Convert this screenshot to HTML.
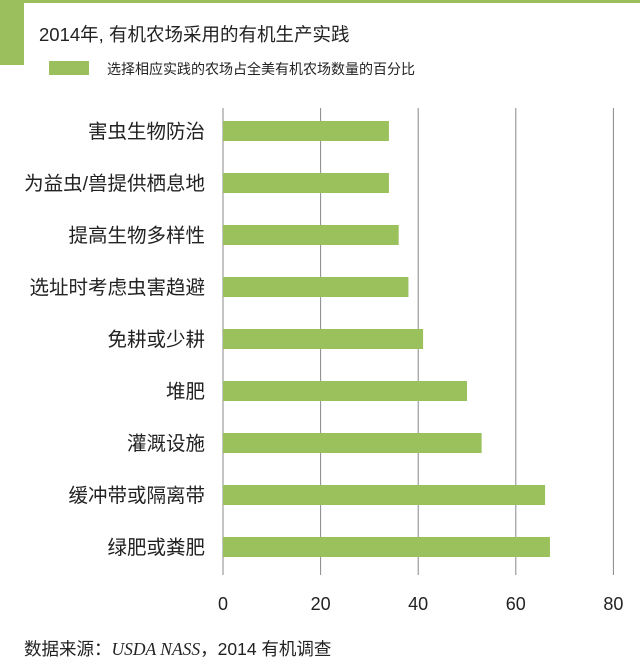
<!DOCTYPE html>
<html><head><meta charset="utf-8"><style>
body{margin:0;background:#fff;font-family:"Liberation Sans","Noto Sans CJK SC",sans-serif}
svg text{font-family:"Liberation Sans","Noto Sans CJK SC",sans-serif}
</style></head><body>
<svg width="640" height="666" viewBox="0 0 640 666">
<rect x="0" y="0" width="640" height="3" fill="#9bbf5c"/>
<rect x="0" y="0" width="24" height="65" fill="#9bbf5c"/>
<text x="39" y="41" font-size="18.5" fill="#222">2014年<tspan>, </tspan>有机农场采用的有机生产实践</text>
<rect x="49" y="61" width="40" height="14" fill="#9bbf5c"/>
<text x="107" y="74" font-size="14" fill="#222">选择相应实践的农场占全美有机农场数量的百分比</text>
<g id="grid"></g><g id="bars"></g><g id="labels"></g><g id="ticks"></g>
<text x="24" y="655" font-size="17.5" fill="#222">数据来源：<tspan font-family="Liberation Serif" font-style="italic">USDA NASS</tspan>，2014 有机调查</text>
</svg>
<script>
const categories=["害虫生物防治","为益虫/兽提供栖息地","提高生物多样性","选址时考虑虫害趋避","免耕或少耕","堆肥","灌溉设施","缓冲带或隔离带","绿肥或粪肥"];
const values=[34,34,36,38,41,50,53,66,67];
const tickValues=[0,20,40,60,80];
const tickLabels=["0","20","40","60","80"];
const NS="http://www.w3.org/2000/svg";
const x=v=>223+v*4.88;
const y=i=>131+i*52;
function mk(t,a,p){const e=document.createElementNS(NS,t);for(const k in a)e.setAttribute(k,a[k]);document.getElementById(p).appendChild(e);return e;}
tickValues.forEach((v,i)=>{
 const l=mk('line',{x1:x(v),x2:x(v),y1:108,y2:575,stroke:'#888','stroke-width':1},'grid');
 
 
 const t=mk('text',{x:x(v),y:610,'font-size':18,'text-anchor':'middle',fill:'#222'},'ticks');
 t.textContent=tickLabels[i];
 
 
});
categories.forEach((c,i)=>{
 const r=mk('rect',{x:x(0),y:y(i)-10,width:x(values[i])-x(0),height:20,fill:'#9bc15c'},'bars');
 
 
 const t=mk('text',{x:205,y:y(i)+7,'font-size':19.5,'text-anchor':'end',fill:'#222'},'labels');
 t.textContent=c;
 
 
});
</script>
</body></html>
